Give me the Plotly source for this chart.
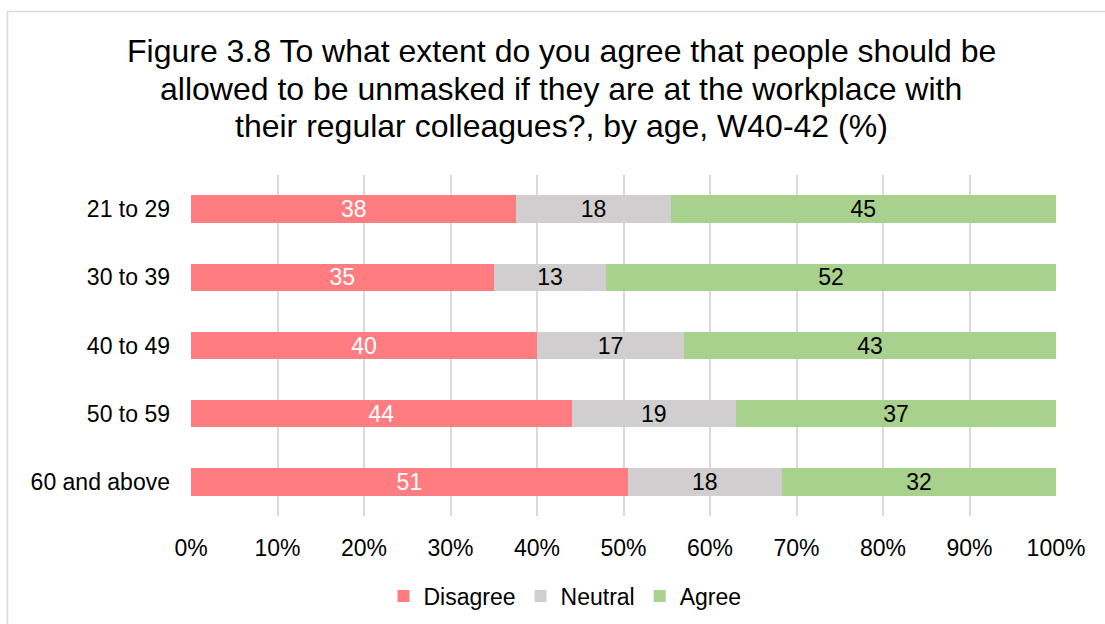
import plotly.graph_objects as go

# Age groups, top to bottom
age_groups = ["21 to 29", "30 to 39", "40 to 49", "50 to 59", "60 and above"]

# Share of respondents (%) per response
disagree = [38, 35, 40, 44, 51]
neutral = [18, 13, 17, 19, 18]
agree = [45, 52, 43, 37, 32]

x_ticks = [0, 10, 20, 30, 40, 50, 60, 70, 80, 90, 100]
x_tick_labels = [f"{v}%" for v in x_ticks]

title_lines = [
    "Figure 3.8 To what extent do you agree that people should be",
    "allowed to be unmasked if they are at the workplace with",
    "their regular colleagues?, by age, W40-42 (%)",
]

FONT = "Liberation Sans, Arial, sans-serif"
W, H = 1105, 624
L, R, T, B = 191, 49, 175, 108
PW, PH = W - L - R, H - T - B


def px_x(p):
    return (p - L) / PW


def px_y(p):
    return (H - B - p) / PH


series = [
    ("Disagree", disagree, "#FF7C80", "white"),
    ("Neutral", neutral, "#D0CECE", "black"),
    ("Agree", agree, "#A9D18E", "black"),
]

fig = go.Figure()
for name, vals, color, txtcolor in series:
    fig.add_trace(go.Bar(
        name=name,
        y=age_groups,
        x=vals,
        orientation="h",
        marker=dict(color=color, line=dict(width=0)),
        text=[str(v) for v in vals],
        textposition="inside",
        insidetextanchor="middle",
        textangle=0,
        constraintext="none",
        textfont=dict(family=FONT, size=23, color=txtcolor),
        hoverinfo="skip",
    ))

annotations = []
for i, line in enumerate(title_lines):
    annotations.append(dict(
        text=line, xref="paper", yref="paper",
        x=px_x(561), y=px_y(51 + i * 37.5),
        xanchor="center", yanchor="middle", showarrow=False,
        font=dict(family=FONT, size=32, color="black"),
    ))

fig.update_layout(
    width=W, height=H,
    margin=dict(l=L, r=R, t=T, b=B, autoexpand=False),
    paper_bgcolor="white", plot_bgcolor="white",
    barmode="stack", barnorm="percent",
    bargap=0.6,
    uniformtext=dict(mode=False),
    showlegend=True,
    legend=dict(
        orientation="h", xref="container", yref="container",
        x=565 / W, y=(H - 596) / H,
        xanchor="center", yanchor="middle",
        font=dict(family=FONT, size=23, color="black"),
        itemwidth=30, traceorder="normal",
    ),
    annotations=annotations,
    shapes=[dict(
        type="rect", xref="paper", yref="paper",
        x0=px_x(7.5), x1=px_x(1120), y0=px_y(11.5), y1=px_y(640),
        line=dict(color="#D9D9D9", width=1.5), fillcolor="rgba(0,0,0,0)",
        layer="below",
    )],
    font=dict(family=FONT, color="black"),
)

fig.update_xaxes(
    range=[0, 100], tickvals=x_ticks, ticktext=x_tick_labels,
    showgrid=True, gridcolor="#D9D9D9", gridwidth=1.5,
    zeroline=False, showline=False, ticks="",
    ticklabelstandoff=16, automargin=False,
    tickfont=dict(family=FONT, size=23, color="black"),
    fixedrange=True,
)
fig.update_yaxes(
    categoryorder="array", categoryarray=age_groups, autorange="reversed",
    showgrid=False, zeroline=False, showline=False, ticks="",
    ticklabelstandoff=20, automargin=False,
    tickfont=dict(family=FONT, size=23, color="black"),
    fixedrange=True,
)

fig.write_html("out.html")
